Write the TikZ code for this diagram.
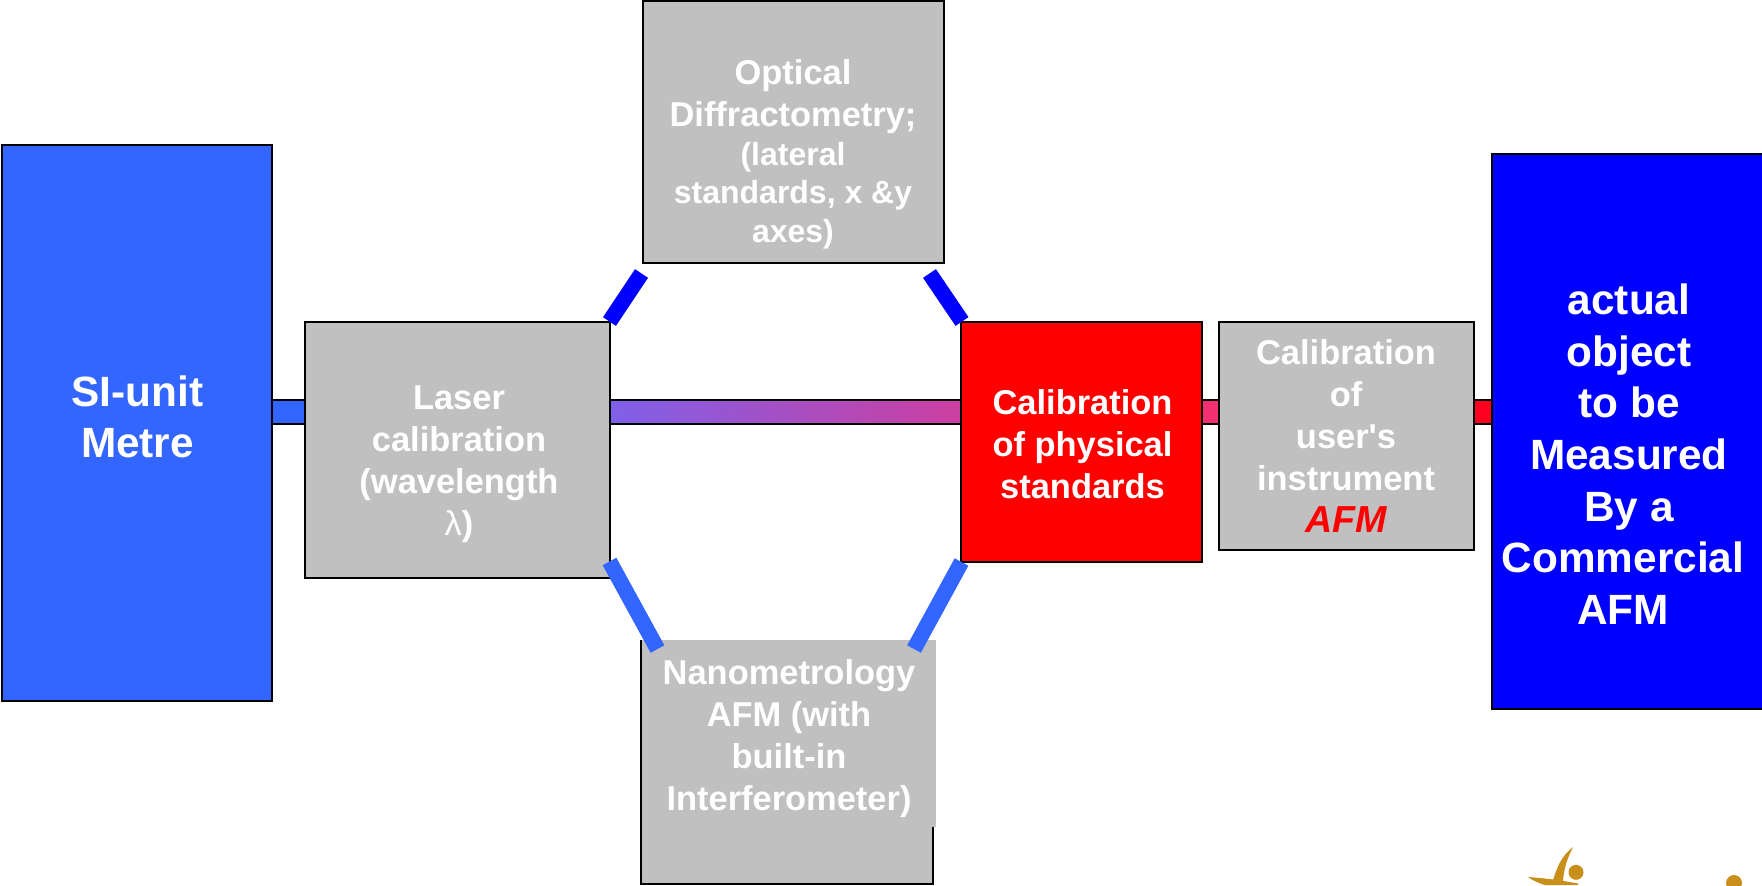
\documentclass[tikz,border=0pt]{standalone}
\usepackage{fontspec}
\setmainfont{Liberation Sans}
\usepackage{tikz}
\definecolor{boxgray}{HTML}{C0C0C0}
\definecolor{siblue}{HTML}{3366FF}
\definecolor{objblue}{HTML}{0000FF}
\definecolor{logogold}{HTML}{C8901A}
\definecolor{barpink}{HTML}{F03070}
\definecolor{barred}{HTML}{FF0020}
\definecolor{gradleft}{HTML}{7F60E8}
\definecolor{gradright}{HTML}{CC3FA0}
\tikzstyle{box}=[rectangle, draw=black, line width=.7pt, inner sep=0pt, outer sep=0pt]
\tikzstyle{txt}=[inner sep=0pt, outer sep=0pt, align=center, text=white, font=\fontsize{9.8}{11.9}\selectfont\bfseries]
\tikzstyle{bigtxt}=[txt, font=\fontsize{12.05}{14.7}\selectfont\bfseries]
\tikzstyle{bar}=[draw=black, line width=.7pt]
\tikzstyle{slant}=[line width=.156cm]
\newcommand{\opticalsmall}{\fontsize{9.1}{11}\selectfont}

\begin{document}
\begin{tikzpicture}
    \useasboundingbox (0,0) rectangle (17.62,8.85);

    \node[box, fill=siblue, minimum width=2.70cm, minimum height=5.56cm] (si) at (1.37,4.62) {};
    \node[box, fill=boxgray, minimum width=3.05cm, minimum height=2.56cm] (laser) at (4.575,4.35) {};
    \node[box, fill=boxgray, minimum width=3.01cm, minimum height=2.62cm] (optical) at (7.935,7.53) {};
    \node[box, fill=red, minimum width=2.41cm, minimum height=2.40cm] (redbox) at (10.815,4.43) {};
    \node[box, fill=boxgray, minimum width=2.55cm, minimum height=2.28cm] (user) at (13.465,4.49) {};
    \node[box, fill=objblue, minimum width=2.72cm, minimum height=5.55cm] (object) at (16.28,4.535) {};
    \node[box, fill=boxgray, minimum width=2.92cm, minimum height=2.43cm] (nano) at (7.87,1.225) {};
    \node[fill=boxgray, inner sep=0pt, outer sep=0pt, minimum width=2.94cm, minimum height=1.87cm] (nanocover) at (7.89,1.515) {};

    \coordinate (bartop) at (0,4.85);
    \coordinate (barbot) at (0,4.61);
    \foreach \from/\to/\col in {si/laser/siblue, redbox/user/barpink, user/object/barred}
      \draw[bar, fill=\col] (\from.east |- bartop) rectangle (\to.west |- barbot);
    \draw[bar, left color=gradleft, right color=gradright] (laser.east |- bartop) rectangle (redbox.west |- barbot);

    \node[txt] (nanotxt) at (7.89,1.465) {Nanometrology\\AFM (with\\built-in\\Interferometer)};
    \node[bigtxt] (sitxt) at (1.375,4.68) {SI-unit\\Metre};
    \node[txt] (lasertxt) at (4.59,4.21) {Laser\\calibration\\(wavelength\\{\mdseries λ})};
    \node[txt] (opticaltxt) at (7.93,7.305) {Optical\\Diffractometry;\\[-.85pt]{\opticalsmall (lateral}\\[-.85pt]{\opticalsmall standards, x \&y}\\[-.85pt]{\opticalsmall axes)}};
    \node[txt] (redtxt) at (10.825,4.41) {Calibration\\of physical\\standards};
    \node[txt] (usertxt) at (13.46,4.49) {Calibration\\of\\user\textquotesingle s\\instrument\\{\color{red}\itshape\fontsize{10.7}{11.9}\selectfont AFM}};
    \node[bigtxt] (objecttxt) at (16.23,4.31) {\hspace*{.12cm}actual\\\hspace*{.12cm}object\\\hspace*{.12cm}to be\\\hspace*{.12cm}Measured\\\hspace*{.12cm}By a\\Commercial\\AFM};

    \coordinate (tl1) at (6.415,6.115);
    \coordinate (tl2) at (6.095,5.635);
    \coordinate (tr1) at (9.295,6.115);
    \coordinate (tr2) at (9.62,5.635);
    \coordinate (bl1) at (6.095,3.235);
    \coordinate (bl2) at (6.575,2.36);
    \coordinate (br1) at (9.615,3.23);
    \coordinate (br2) at (9.14,2.36);

    \foreach \from/\to in {tl1/tl2, tr1/tr2}
      \draw[slant, objblue] (\from) -- (\to);
    \foreach \from/\to in {bl1/bl2, br1/br2}
      \draw[slant, siblue] (\from) -- (\to);

    \begin{scope}
      \clip (0,0) rectangle (17.62,8.85);
      \fill[logogold] (15.28,0.08) .. controls (15.42,0.07) and (15.60,0.05) .. (15.78,0.015) -- (15.78,0) -- (15.45,0) .. controls (15.38,0.02) and (15.32,0.05) .. (15.28,0.08);
      \fill[logogold] (15.73,0.378) .. controls (15.62,0.30) and (15.57,0.18) .. (15.53,0.05) -- (15.63,0.04) .. controls (15.64,0.17) and (15.67,0.26) .. (15.73,0.378);
      \fill[logogold] (15.76,0.127) circle (.075);
      \fill[logogold] (17.34,0.02) circle (.08);
    \end{scope}
  \end{tikzpicture}
\end{document}
